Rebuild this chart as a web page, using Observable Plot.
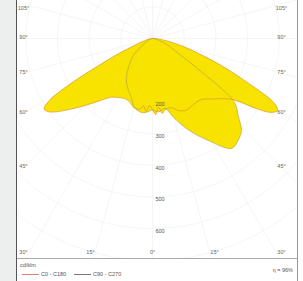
<!DOCTYPE html>
<html>
<head>
<meta charset="utf-8">
<script src="https://cdn.jsdelivr.net/npm/d3@7"></script>
<script src="https://cdn.jsdelivr.net/npm/@observablehq/plot@0.6"></script>
<style>
  html, body { margin: 0; padding: 0; background: #fff; }
  #page { position: relative; width: 303px; height: 281px; overflow: hidden; font-family: "Liberation Sans", "DejaVu Sans", sans-serif; }
  #strip { position: absolute; left: 0; top: 0; width: 16px; height: 281px; background: #edeeee; }
  #panel { position: absolute; left: 16px; top: 0; width: 282px; height: 281px; box-sizing: border-box; border-left: 1px solid #555; border-right: 1px solid #999; }
  #chart { height: 258px; border-bottom: 1px solid #aaa; }
  #chart svg { display: block; }
  #legend { position: relative; height: 22px; font-size: 5.5px; color: #555; }
  .unit { position: absolute; left: 3px; top: 3px; }
  .items { position: absolute; left: 5px; top: 12px; white-space: nowrap; }
  .sw { display: inline-block; width: 17px; height: 0; vertical-align: middle; margin-right: 2px; }
  .red { border-top: 1px solid #e08070; }
  .gray { border-top: 1px solid #777; margin-left: 8px; }
  .eta { position: absolute; right: 4px; top: 8px; }
</style>
</head>
<body>
<div id="page">
  <div id="strip"></div>
  <div id="panel">
    <div id="chart"></div>
    <div id="legend">
      <div class="unit">cd/klm</div>
      <div class="items"><span class="sw red"></span>C0 - C180<span class="sw gray"></span>C90 - C270</div>
      <div class="eta">η = 96%</div>
    </div>
  </div>
</div>
<script>
// ---- data (cd/klm), angles in degrees from nadir ----
const C0_angles   = [0, 2.5, 5, 7.5, 10, 15, 20, 25, 30, 35, 40, 45, 50, 53, 56, 58, 60, 62, 65, 69, 75, 80, 85, 90];
const C0_values   = [225, 240, 218, 238, 228, 226, 242, 250, 246, 244, 250, 270, 295, 322, 395, 440, 455, 436, 334, 222, 105, 50, 20, 0];
const C180_angles = [0, 2.5, 5, 7.5, 10, 15, 20, 25, 30, 35, 40, 45, 50, 53, 55, 57, 59, 61, 63.6, 66, 69, 75, 80, 90];
const C180_values = [225, 212, 232, 214, 226, 226, 212, 209, 215, 226, 255, 298, 350, 385, 402, 408, 380, 300, 180, 115, 60, 25, 12, 0];
const C90_angles  = [0, 5, 10, 15, 20, 25, 30, 33, 36, 40, 44, 48, 52, 54, 56, 58, 60, 65, 70, 80, 90];
const C90_values  = [225, 232, 224, 258, 298, 338, 378, 408, 428, 420, 404, 364, 330, 270, 175, 130, 95, 60, 35, 12, 0];
const C270_angles = [0, 5, 8.5, 14.6, 19.6, 25, 30, 35, 39.6, 45, 50, 58, 65, 75, 90];
const C270_values = [225, 234, 236, 225, 198, 180, 164, 142, 119, 95, 72, 30, 18, 8, 0];

const ringValues   = [100, 200, 300, 400, 500, 600, 700];
const ringLabels   = [200, 300, 400, 500, 600];
const angleLabels  = [-105, -90, -75, -60, -45, -30, -15, 0, 15, 30, 45, 60, 75, 90, 105];
const planeNames   = ["C0 - C180", "C90 - C270"];

// ---- geometry ----
const s = 0.317;            // px per cd/klm
const W = 280, H = 258;
const cx = 135, cy = 38;    // pole position in px inside svg
const rad = d => d * Math.PI / 180;

function half(angles, values, sign) {
  return angles.map((a, i) => ({x: sign * values[i] * Math.sin(rad(a)), y: values[i] * Math.cos(rad(a))}));
}
const planeA = [...half(C180_angles, C180_values, -1).reverse(), ...half(C0_angles, C0_values, 1)]
  .map(d => ({...d, plane: planeNames[0]}));
const planeB = [...half(C270_angles, C270_values, -1).reverse(), ...half(C90_angles, C90_values, 1)]
  .map(d => ({...d, plane: planeNames[1]}));

const rings = ringValues.flatMap(r => d3.range(-180, 181, 3).map(a => ({r, x: r * Math.sin(rad(a)), y: r * Math.cos(rad(a))})));
const spokes = d3.range(-165, 181, 15).map(a => ({x2: 900 * Math.sin(rad(a)), y2: 900 * Math.cos(rad(a))}));

// angle label positions
const sideDx = 129;
const angLab = angleLabels.map(a => {
  const A = Math.abs(a), sg = Math.sign(a);
  let px, py;
  if (A <= 30) {
    py = 252 - cy;
    px = A === 0 ? 0 : (A === 15 ? 62 : sideDx) * sg;
  } else {
    px = sideDx * sg;
    py = Math.max(8 - cy, sideDx / Math.tan(rad(A)) - 1);
  }
  return {x: px / s, y: py / s, label: A + "°"};
});

const chart = Plot.plot({
  width: W, height: H, margin: 0,
  x: {domain: [-cx / s, (W - cx) / s], range: [0, W], axis: null},
  y: {domain: [-cy / s, (H - cy) / s], range: [0, H], axis: null},
  style: {background: "transparent", fontFamily: "Liberation Sans, DejaVu Sans, sans-serif"},
  marks: [
    Plot.line(rings, {x: "x", y: "y", z: "r", stroke: "#f0f0f0", strokeWidth: 0.7}),
    Plot.link(spokes, {x1: 0, y1: 0, x2: "x2", y2: "y2", stroke: "#f0f0f0", strokeWidth: 0.7}),
    Plot.line(planeA, {x: "x", y: "y", fill: "#f8e200", stroke: "none", curve: "catmull-rom"}),
    Plot.line(planeB, {x: "x", y: "y", fill: "#f8e200", stroke: "none", curve: "catmull-rom"}),
    Plot.line(planeA, {x: "x", y: "y", stroke: "#d99a2a", strokeWidth: 0.7, curve: "catmull-rom"}),
    Plot.line(planeB, {x: "x", y: "y", stroke: "#b09a50", strokeWidth: 0.6, curve: "catmull-rom"}),
    Plot.text(ringLabels, {x: 0, y: d => d, text: d => String(d), dx: 3, dy: 2.5, textAnchor: "start", fontSize: 5.5, fill: "#555"}),
    Plot.text(angLab, {x: "x", y: "y", text: "label", fontSize: 5.5, fill: "#666"})
  ]
});
document.getElementById("chart").appendChild(chart);
</script>
</body>
</html>
